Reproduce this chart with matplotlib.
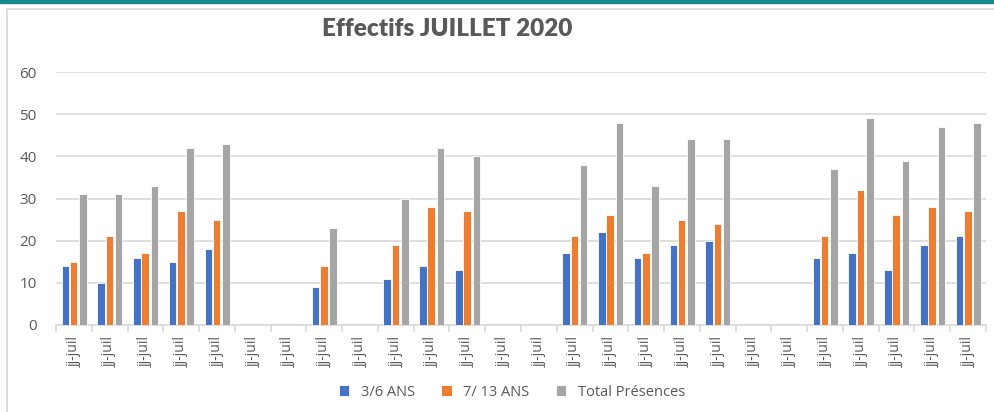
import numpy as np
import matplotlib.pyplot as plt
from matplotlib.lines import Line2D
from matplotlib.patches import Rectangle

# effectifs par jour (0 = pas d'accueil)
jours = ['jj-juil'] * 26
petits = [14, 10, 16, 15, 18, 0, 0, 9, 0, 11, 14, 13, 0, 0,
          17, 22, 16, 19, 20, 0, 0, 16, 17, 13, 19, 21]
grands = [15, 21, 17, 27, 25, 0, 0, 14, 0, 19, 28, 27, 0, 0,
          21, 26, 17, 25, 24, 0, 0, 21, 32, 26, 28, 27]
totaux = [31, 31, 33, 42, 43, 0, 0, 23, 0, 30, 42, 40, 0, 0,
          38, 48, 33, 44, 44, 0, 0, 37, 49, 39, 47, 48]

series = ['3/6 ANS', '7/ 13 ANS', 'Total Présences']
couleurs = ['#4472C4', '#ED7D31', '#A5A5A5']
txt = '#595959'
grille = '#D9D9D9'

plt.rcParams['font.family'] = ['Open Sans', 'DejaVu Sans']

fig = plt.figure(figsize=(9.94, 4.12), dpi=100)
ax = fig.add_axes([56 / 994, 1 - 325 / 412, 930 / 994, 253 / 412])

x = np.arange(len(jours))
decal = [-0.24, -0.01, 0.25]
for vals, d, c, nom in zip([petits, grands, totaux], decal, couleurs, series):
    ax.bar(x + d, vals, width=0.21, color=c, edgecolor='white',
           linewidth=0.6, label=nom, zorder=3)

ax.set_xlim(-0.5, len(jours) - 0.5)
ax.set_ylim(0, 60)
ax.set_yticks(range(0, 61, 10))
ax.grid(axis='y', color=grille, linewidth=1.2, zorder=0)
for s in ['top', 'right', 'left']:
    ax.spines[s].set_visible(False)
ax.spines['bottom'].set_color(grille)
ax.spines['bottom'].set_linewidth(1.2)

ax.set_xticks(x)
ax.set_xticklabels(jours, rotation=90, fontsize=10, color=txt)
ax.set_xticks(np.arange(-0.5, len(jours)), minor=True)
ax.tick_params(axis='x', which='major', length=0, pad=8)
ax.tick_params(axis='x', which='minor', length=5, color=grille, width=1.2)
ax.tick_params(axis='y', length=0, labelsize=11, labelcolor=txt, pad=14)

fig.text(447 / 994, 1 - 29 / 412, 'Effectifs JUILLET 2020', ha='center',
         va='center', fontsize=17.5, fontweight='heavy', color=txt,
         family=['Lato', 'DejaVu Sans'])

leg = fig.legend(loc='center', bbox_to_anchor=(512 / 994, 1 - 392 / 412),
                 ncol=3, frameon=False, fontsize=10.5, handlelength=0.7,
                 handleheight=0.7, columnspacing=1.8, handletextpad=0.8)
for t in leg.get_texts():
    t.set_color(txt)

# cadre et bandeau
fig.add_artist(Rectangle((0, 1 - 3 / 412), 1, 3 / 412, transform=fig.transFigure,
                         color='#138A8F', zorder=5))
fig.add_artist(Line2D([7 / 994, 7 / 994], [0, 1 - 9 / 412],
                      transform=fig.transFigure, color=grille, lw=1.2))
fig.add_artist(Line2D([7 / 994, 1], [1 - 9 / 412, 1 - 9 / 412],
                      transform=fig.transFigure, color=grille, lw=1.2))

fig.savefig('out.png', dpi=100)
